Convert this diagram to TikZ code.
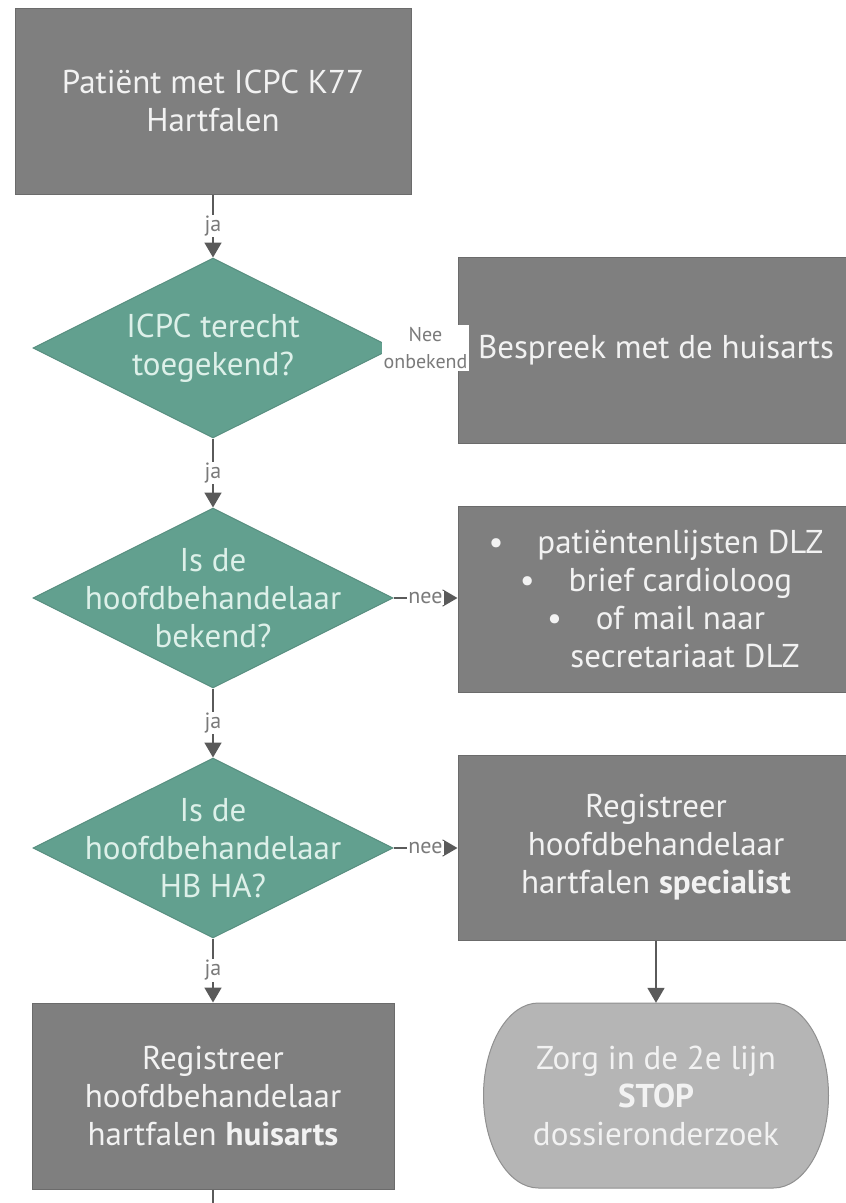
\documentclass[tikz,border=0pt]{standalone}
\usepackage{fontspec}
\setmainfont{PT Sans}
\usetikzlibrary{shapes.geometric,arrows.meta}
\definecolor{boxgray}{HTML}{7F7F7F}
\definecolor{boxedge}{HTML}{6B6B6B}
\definecolor{diateal}{HTML}{62A08F}
\definecolor{diaedge}{HTML}{588F80}
\definecolor{mint}{HTML}{DDF0E9}
\definecolor{stopgray}{HTML}{B5B5B5}
\definecolor{stopedge}{HTML}{909090}
\definecolor{linegray}{HTML}{5A5A5A}
\definecolor{lblgray}{HTML}{7A7A7A}
\definecolor{boxtext}{HTML}{F2F2F2}
\begin{document}
\begin{tikzpicture}[x=1pt,y=1pt,
  bigtext/.style={font=\fontsize{33}{38}\selectfont},
  box/.style={rectangle, draw=boxedge, line width=1pt, fill=boxgray, text=boxtext, align=center, bigtext, minimum width=396pt, minimum height=186pt, inner sep=0pt},
  dia/.style={diamond, draw=diaedge, line width=1pt, fill=diateal, minimum width=360pt, minimum height=180pt, inner sep=0pt},
  diatext/.style={text=mint, align=center, bigtext},
  term/.style={rectangle, text=boxtext, align=center, bigtext, minimum width=345pt, minimum height=185pt, inner sep=0pt},
  termshape/.style={draw=stopedge, line width=1pt, fill=stopgray},
  conn/.style={draw=linegray, line width=1.8pt, -{Triangle[width=17pt,length=15pt]}},
  lbl/.style={fill=white, text=lblgray, font=\fontsize{22}{24}\selectfont, inner sep=1pt},
  lbltwo/.style={fill=white, text=lblgray, align=center, font=\fontsize{20}{27}\selectfont, inner sep=2pt},
]
\useasboundingbox (0,0) rectangle (846,-1203);
\clip (0,0) rectangle (846,-1203);

% left column
\node[box] (b1) at (213,-101) {Patiënt met ICPC K77\\Hartfalen};
\node[dia, label={[diatext]center:{ICPC terecht\\toegekend?}}] (d1) at (213,-348) {};
\node[dia, label={[diatext]center:{Is de\\hoofdbehandelaar\\bekend?}}] (d2) at (213,-598) {};
\node[dia, label={[diatext]center:{Is de\\hoofdbehandelaar\\HB HA?}}] (d3) at (213,-848) {};
\node[box, minimum width=362pt] (b5) at (213,-1096) {Registreer\\hoofdbehandelaar\\hartfalen \textbf{huisarts}};

% right column
\node[box] (b2) at (656,-350) {Bespreek met de huisarts};
\node[box] (b3) at (656,-599) {\textbullet\hspace{34pt}patiëntenlijsten DLZ\\\textbullet\hspace{34pt}brief cardioloog\\\textbullet\hspace{34pt}of mail naar\\\hspace*{58pt}secretariaat DLZ};
\node[box, minimum height=185pt] (b4) at (656,-847.5) {Registreer\\hoofdbehandelaar\\hartfalen \textbf{specialist}};
\path[termshape] (538.5,-1003) -- (773.5,-1003)
  arc[start angle=90, end angle=-90, x radius=55, y radius=92.5]
  -- (538.5,-1188)
  arc[start angle=270, end angle=90, x radius=55, y radius=92.5] -- cycle;
\node[term] (t1) at (656,-1095.5) {Zorg in de 2e lijn\\\textbf{STOP}\\dossieronderzoek};

% connectors
\draw[conn] (b1.south) -- node[lbl]{ja} (d1.north);
\draw[conn] (d1.south) -- node[lbl]{ja} (d2.north);
\draw[conn] (d2.south) -- node[lbl]{ja} (d3.north);
\draw[conn] (d3.south) -- node[lbl]{ja} (b5.north);
\draw[conn] (d1.east) -- node[lbltwo]{Nee\\onbekend} (d1.east -| b2.west);
\draw[conn] (d2.east) -- node[lbl]{nee} (d2.east -| b3.west);
\draw[conn] (d3.east) -- node[lbl]{nee} (d3.east -| b4.west);
\draw[conn] (b4.south) -- (t1.north);
\coordinate (bend) at (213,-1215);
\draw[draw=linegray, line width=1.8pt] (b5.south) -- (bend);
\end{tikzpicture}
\end{document}
